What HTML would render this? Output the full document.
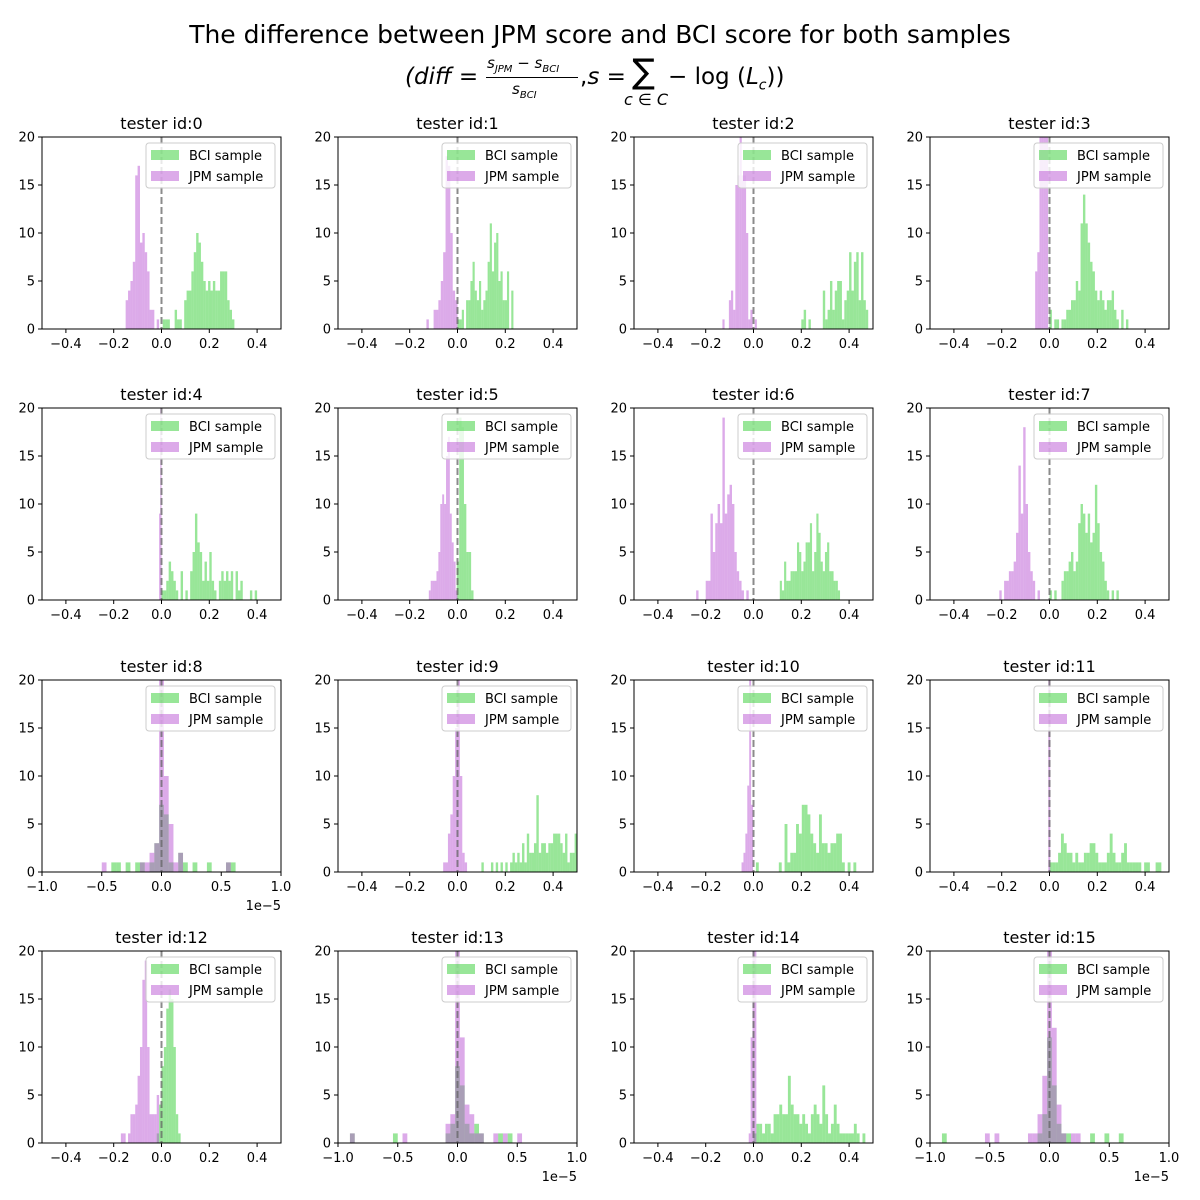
<!DOCTYPE html>
<html><head><meta charset="utf-8"><style>
body{margin:0;background:#fff;width:1200px;height:1200px;overflow:hidden;font-family:"DejaVu Sans","Liberation Sans",sans-serif;}
#wrap{position:relative;width:1200px;height:1200px;}
.t1{position:absolute;left:0;width:1200px;top:20px;text-align:center;font-size:25px;font-family:"DejaVu Sans","Liberation Sans",sans-serif;}
.t2{position:absolute;left:0;width:1200px;top:54px;height:56px;font-size:23px;font-family:"DejaVu Sans","Liberation Sans",sans-serif;}
.t2 span{position:absolute;white-space:nowrap;}
svg text{font-family:"DejaVu Sans","Liberation Sans",sans-serif;}
</style></head><body>
<div id="wrap">
<div class="t1">The difference between JPM score and BCI score for both samples</div>
<div class="t2">
<span style="left:405px;top:10px;"><i>(diff</i> =</span>
<span style="left:487px;top:0px;font-size:15px;"><i>s<sub style="font-size:10px">JPM</sub></i> − <i>s<sub style="font-size:10px">BCI</sub></i></span>
<span style="left:486px;top:23px;width:92px;height:1px;background:#000;"></span>
<span style="left:512px;top:26px;font-size:15px;"><i>s<sub style="font-size:10px">BCI</sub></i></span>
<span style="left:580px;top:10px;">,<i>s</i> =</span>
<span style="left:632px;top:-2px;font-size:34px;">∑</span>
<span style="left:624px;top:36px;font-size:16px;"><i>c</i> ∈ <i>C</i></span>
<span style="left:668px;top:10px;">− log (<i>L<sub style="font-size:14px">c</sub></i>))</span>
</div>
<svg id="chart" width="1200" height="1200" style="position:absolute;left:0;top:0"></svg>
</div>
<script>
const bciStart=[0.005,0.0,0.2,0.0,0.0,-0.003,0.11,0.0,-0.5,0.1,0.01,0.0,-0.02,-0.9,0.0,-0.9];
const bciWidth=[0.01,0.009,0.01,0.01,0.01,0.01,0.009,0.01,0.04,0.01,0.012,0.012,0.01,0.04,0.012,0.04];
const bciCounts=[
[1,1,1,0,0,2,1,1,0,3,4,4,6,8,10,9,7,5,4,5,4,5,4,4,6,6,6,3,2,1],
[1,1,2,0,3,3,5,7,4,3,5,2,3,4,7,11,6,9,10,5,6,3,3,6,0,4],
[1,2,0,1,0,0,0,0,0,4,1,2,5,2,4,5,5,1,3,4,8,4,7,8,3,8,3,2],
[2,0,1,1,0,1,1,2,2,3,3,5,4,11,14,11,9,7,6,4,3,4,3,2,3,3,4,2,1,0,2,0,1],
[1,1,2,4,3,2,1,0,3,0,1,0,3,5,9,6,5,2,4,2,5,2,1,0,2,3,2,3,2,3,0,3,1,2,0,0,0,1,0,1],
[4,19,18,10,5,5,1],
[2,1,4,2,2,3,3,3,6,5,3,4,6,6,8,3,5,9,7,4,3,5,6,3,3,2,2,1],
[1,0,1,0,0,2,3,3,4,5,3,4,8,10,9,7,9,6,7,12,8,5,4,2,1,0,1,0,1,0],
[0,0,1,1,0,1,0,1,1,0,1,3,7,6,1,0,2,1,0,1,0,0,1,0,0,0,1,1],
[1,0,0,0,1,0,1,0,1,0,1,0,1,2,1,2,1,3,1,4,2,2,3,8,2,3,3,2,3,3,4,4,4,3,2,4,1,2,2,4],
[1,0,0,0,0,0,0,0,1,0,5,1,2,2,5,4,7,7,6,4,3,2,6,3,3,2,3,3,4,4,1,0,1,0,1],
[1,1,1,2,4,3,2,2,1,2,1,1,2,2,3,3,2,1,1,1,2,4,2,1,1,2,3,1,1,1,1,1,0,1,1,0,0,1,1],
[1,4,8,10,14,16,15,10,3,1],
[1,0,0,0,0,0,0,0,0,1,0,0,0,0,0,0,0,0,0,0,1,2,8,6,2,1,2,1,0,0,0,1,0,1],
[1,2,2,1,2,2,1,3,3,4,3,3,7,4,3,3,2,3,2,1,3,4,3,2,6,3,1,2,4,2,1,1,1,1,1,2,1,0,1],
[1,0,0,0,0,0,0,0,0,0,0,0,0,0,0,0,0,0,0,0,1,3,11,6,2,1,1,0,0,0,0,1,0,0,1,0,0,1]
];
const jpmStart=[-0.15,-0.13,-0.13,-0.06,-0.01,-0.12,-0.24,-0.21,-0.5,-0.06,-0.05,-0.005,-0.17,-0.9,-0.02,-0.9];
const jpmWidth=[0.01,0.01,0.009,0.009,0.005,0.008,0.01,0.01,0.04,0.01,0.008,0.008,0.01,0.04,0.008,0.04];
const jpmCounts=[
[3,4,5,7,16,17,9,10,8,6,2,2,0,1],
[1,0,0,2,2,3,5,8,18,17,10,4,3],
[1,0,0,3,4,2,15,16,20,16,16,10,1,2,0,1],
[6,8,22,25,22,21],
[9,30],
[1,2,2,2,3,5,10,11,10,15,17,9,6,4,1],
[1,0,0,0,2,2,9,5,8,10,8,19,9,11,12,10,5,3,2,1,0,1],
[1,0,2,2,3,3,4,7,14,9,18,10,5,3,2,0,1],
[1,0,0,0,0,0,0,0,1,1,2,3,25,10,5,1,2,0,0,0,0,0,0,0,0,0,1,0],
[1,1,4,6,10,15,30,10,2,1],
[1,2,4,9,30,7],
[30],
[1,1,0,1,3,3,4,7,10,17,19,10,3,3,3,5],
[1,0,0,0,0,0,0,0,0,0,0,1,0,0,0,0,0,0,0,0,2,3,25,11,4,3,1,1,0,0,1,0,1,0,0,1],
[1,11,30,30],
[0,0,0,0,0,0,0,0,0,1,0,1,0,0,0,0,0,0,1,1,3,7,25,12,4,1,0,1,1]
];
const sciPanels=[8,13,15];
const yTicks=[0,5,10,15,20];
const xTicksSmall=["−0.4","−0.2","0.0","0.2","0.4"];
const xTickValsSmall=[-0.4,-0.2,0,0.2,0.4];
const xTicksSci=["−1.0","−0.5","0.0","0.5","1.0"];
const xTickValsSci=[-1,-0.5,0,0.5,1];

const NS="http://www.w3.org/2000/svg";
const svg=document.getElementById('chart');
const colX=[42,338,634,930], rowY=[137,408,680,951], AW=239, AH=192;
function mk(tag,attrs,parent){const e=document.createElementNS(NS,tag);for(const k in attrs)e.setAttribute(k,attrs[k]);(parent||svg).appendChild(e);return e;}
const defs=mk('defs',{});
for(let p=0;p<16;p++){
  const x0=colX[p%4], y0=rowY[Math.floor(p/4)];
  const sci=sciPanels.includes(p);
  const xmin=sci?-1:-0.5, xmax=sci?1:0.5;
  const xs=v=>x0+(v-xmin)/(xmax-xmin)*AW;
  const ys=v=>y0+AH-v/20*AH;
  const cp=mk('clipPath',{id:'c'+p},defs); mk('rect',{x:x0,y:y0,width:AW,height:AH},cp);
  const g=mk('g',{});
  
  
  const bars=mk('g',{'clip-path':'url(#c'+p+')'},g);
  const series=[[bciStart[p],bciWidth[p],bciCounts[p],'rgba(50,205,50,0.5)','bci-bar'],[jpmStart[p],jpmWidth[p],jpmCounts[p],'rgba(186,85,211,0.5)','jpm-bar']];
  series.forEach(s=>{
    s[2].forEach((c,i)=>{
      if(c<=0)return;
      const r=mk('rect',{x:xs(s[0]+i*s[1]),y:ys(c),width:Math.max(0.5,xs(s[0]+(i+1)*s[1])-xs(s[0]+i*s[1])),height:ys(0)-ys(c),fill:s[3]},bars);
      
      
    });
  });
  const zl=mk('line',{x1:xs(0),x2:xs(0),y1:y0,y2:y0+AH,stroke:'rgba(100,100,100,0.75)','stroke-width':2,'stroke-dasharray':'7,3'},g);
  
  
  mk('rect',{x:x0,y:y0,width:AW,height:AH,fill:'none',stroke:'#000','stroke-width':1},g);
  const t=mk('text',{x:x0+AW/2,y:y0-8,'text-anchor':'middle','font-size':16,fill:'#000'},g);
  t.textContent='tester id:'+p;
  
  
  yTicks.forEach(v=>{
    mk('line',{x1:x0-4,x2:x0,y1:ys(v),y2:ys(v),stroke:'#000'},g);
    const tt=mk('text',{x:x0-7,y:ys(v)+4.5,'text-anchor':'end','font-size':13},g);
    tt.textContent=v;
    
    
  });
  const tv=sci?xTickValsSci:xTickValsSmall, tl=sci?xTicksSci:xTicksSmall;
  tv.forEach((v,i)=>{
    mk('line',{x1:xs(v),x2:xs(v),y1:y0+AH,y2:y0+AH+4,stroke:'#000'},g);
    const tt=mk('text',{x:xs(v),y:y0+AH+19,'text-anchor':'middle','font-size':13},g);
    tt.textContent=tl[i];
    
    
  });
  if(sci){
    const o=mk('text',{x:x0+AW,y:y0+AH+38,'text-anchor':'end','font-size':13},g);
    o.textContent='1e−5';
    
    
  }
  const lg=mk('g',{},g);
  
  
  const lx=x0+AW-135, ly=y0+6;
  mk('rect',{x:lx,y:ly,width:129,height:45,rx:3,fill:'rgba(255,255,255,0.8)',stroke:'#ccc'},lg);
  [['BCI sample','rgba(50,205,50,0.5)'],['JPM sample','rgba(186,85,211,0.5)']].forEach((e,i)=>{
    mk('rect',{x:lx+5,y:ly+7+i*21,width:28,height:10,fill:e[1]},lg);
    const lt=mk('text',{x:lx+43,y:ly+17+i*21,'font-size':13},lg);
    lt.textContent=e[0];
    
    
  });
}
</script>
</body></html>
